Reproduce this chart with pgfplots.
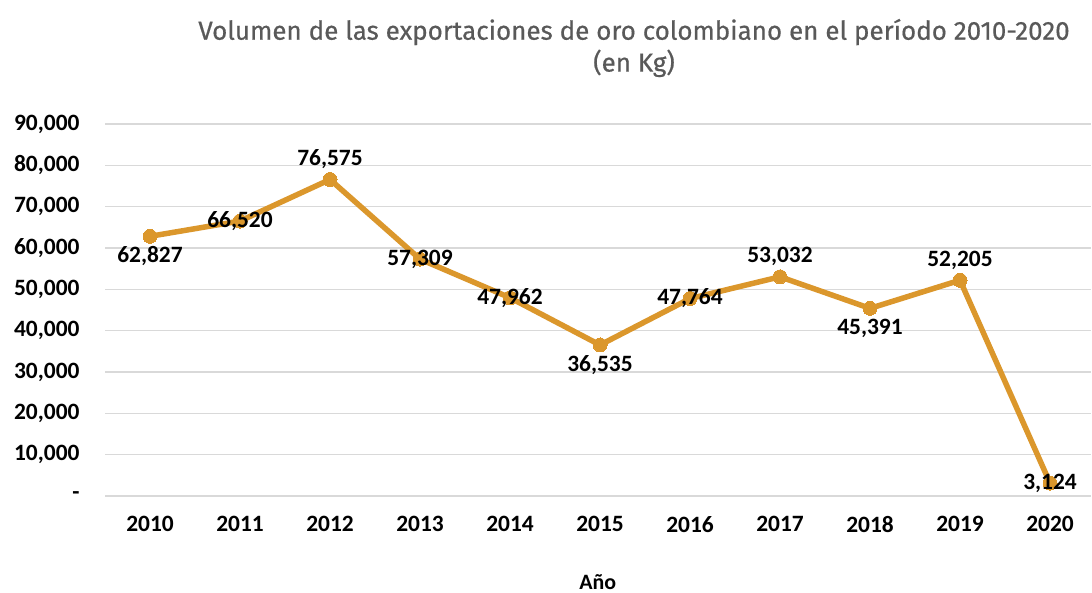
\documentclass[border=0pt]{standalone}
\usepackage{fontspec}
\setmainfont{Carlito}
\newfontfamily\titlefont[FakeBold=0.5]{Fira Sans}
\usepackage{pgfplots}
\pgfplotsset{compat=1.18}
\definecolor{gold}{RGB}{219,151,44}
\definecolor{gridc}{RGB}{217,217,217}
\definecolor{titlegray}{RGB}{89,89,89}
\begin{document}
\begin{tikzpicture}[x=1bp,y=1bp]
\useasboundingbox (0,0) rectangle (1092,593);
\node[font=\titlefont\fontsize{26.1}{32}\selectfont, text=titlegray, align=center] at (634,545) {Volumen de las exportaciones de oro colombiano en el período 2010-2020\\(en Kg)};
\begin{axis}[
  at={(105bp,97bp)}, anchor=south west, scale only axis,
  width=985.5bp, height=372bp,
  xmin=-0.5, xmax=10.45, ymin=0, ymax=90000,
  clip=false,
  scaled y ticks=false,
  axis line style={draw=none},
  major tick style={draw=none},
  ymajorgrids, grid style={gridc, line width=1.3bp},
  xtick={0,...,10},
  xticklabels={2010,2011,2012,2013,2014,2015,2016,2017,2018,2019,2020},
  ytick={0,10000,20000,30000,40000,50000,60000,70000,80000,90000},
  yticklabels={{-\hspace{13bp}},{10,000},{20,000},{30,000},{40,000},{50,000},{60,000},{70,000},{80,000},{90,000}},
  tick label style={font=\fontsize{23.5}{27}\selectfont\bfseries, text=black},
  yticklabel style={xshift=-22bp},
  xticklabel style={yshift=-17bp},
  xlabel={Año},
  xlabel style={font=\fontsize{22}{26}\selectfont\bfseries, at={(rel axis cs:0.5,0)}, anchor=center, yshift=-86bp},
  nodes near coords={\pgfmathprintnumber[fixed,precision=0,1000 sep={,},assume math mode=true]{\pgfplotspointmeta}},
]
\addplot[gold, line width=5.5bp, mark=*, mark size=7bp, mark options={fill=gold, draw=gold, line width=0bp}, nodes near coords=] coordinates {
(0,62827)(1,66520)(2,76575)(3,57309)(4,47962)(5,36535)(6,47764)(7,53032)(8,45391)(9,52205)(10,3124)};
% labels above
\addplot[draw=none, mark=none, nodes near coords style={font=\fontsize{23.5}{27}\selectfont\bfseries, text=black, anchor=center, yshift=20bp}] coordinates {(2,76575)(7,53032)(9,52205)};
% labels below
\addplot[draw=none, mark=none, nodes near coords style={font=\fontsize{23.5}{27}\selectfont\bfseries, text=black, anchor=center, yshift=-20bp}] coordinates {(0,62827)(5,36535)(8,45391)};
% labels centred
\addplot[draw=none, mark=none, nodes near coords style={font=\fontsize{23.5}{27}\selectfont\bfseries, text=black, anchor=center}] coordinates {(1,66520)(3,57309)(4,47962)(6,47764)(10,3124)};
\end{axis}
\end{tikzpicture}
\end{document}
